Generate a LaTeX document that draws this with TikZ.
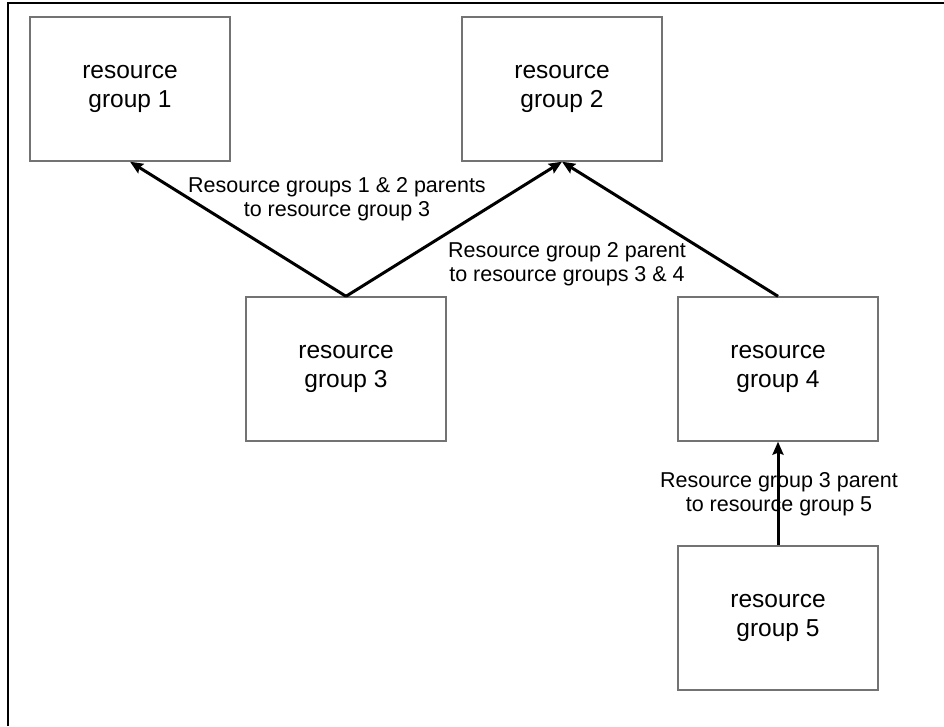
\documentclass[tikz,border=0pt]{standalone}
\usepackage{fontspec}
\setmainfont{Liberation Sans}
\usetikzlibrary{positioning,arrows.meta}
\tikzset{
  >={Stealth[length=13pt,width=11pt,inset=2pt]},
  rgbox/.style={draw=black!55,line width=1.4pt,minimum width=200pt,
    minimum height=144pt,inner sep=0pt,align=center,
    font=\fontsize{24.5}{29}\selectfont},
  parent/.style={->,line width=3pt},
  parentlbl/.style={align=center,inner sep=1pt,
    font=\fontsize{21.5}{24}\selectfont},
  frameline/.style={line width=1.5pt,black},
}
\begin{document}
\begin{tikzpicture}[x=1pt,y=-1pt]
  \useasboundingbox (0,0) rectangle (944,726);
  \draw[frameline] (8,726) -- (8,3) -- (944,3);
  % resource groups
  \node[rgbox] (rg1) at (130,89)  {resource\\group 1};
  \node[rgbox] (rg2) at (562,89)  {resource\\group 2};
  \node[rgbox] (rg3) at (346,369) {resource\\group 3};
  \node[rgbox] (rg4) at (778,369) {resource\\group 4};
  \node[rgbox] (rg5) at (778,618) {resource\\group 5};
  % parent links
  \draw[parent] (rg3.north) -- (rg1.south);
  \draw[parent] (rg3.north) -- (rg2.south);
  \draw[parent] (rg4.north) -- (rg2.south);
  \draw[parent] (rg5.north) -- (rg4.south);
  \node[parentlbl] (lbl12) at (337,199) {Resource groups 1 \& 2 parents\\to resource group 3};
  \node[parentlbl] (lbl2) at (567,264) {Resource group 2 parent\\to resource groups 3 \& 4};
  \node[parentlbl] (lbl3) at (779,494) {Resource group 3 parent\\to resource group 5};
\end{tikzpicture}
\end{document}
